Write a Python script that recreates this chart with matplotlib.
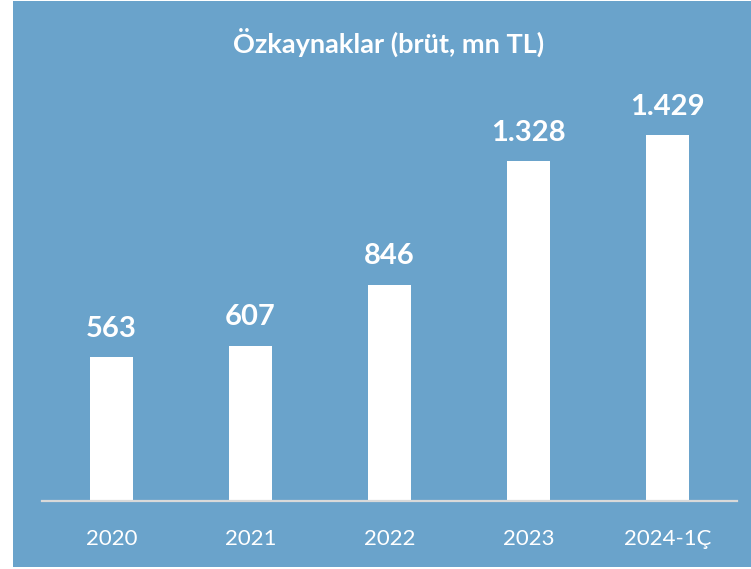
import matplotlib
matplotlib.use('Agg')
import matplotlib.pyplot as plt
from matplotlib.patches import Rectangle

# Data
categories = ['2020', '2021', '2022', '2023', '2024-1Ç']
values = [563, 607, 846, 1328, 1429]
value_labels = ['563', '607', '846', '1.328', '1.429']
title = 'Özkaynaklar (brüt, mn TL)'

bg_blue = '#6aa3cb'
W, H = 751, 569

plt.rcParams['font.family'] = ['Lato', 'DejaVu Sans']

fig = plt.figure(figsize=(W / 100, H / 100), dpi=100)
fig.patch.set_facecolor('white')

# blue panel behind everything
fig.patches.append(Rectangle((13 / W, 2 / H), (W - 13) / W, (567 - 1) / H,
                             transform=fig.transFigure, facecolor=bg_blue,
                             edgecolor='none', zorder=-10))

ax = fig.add_axes([42 / W, 68 / H, 695 / W, 431 / H])
ax.set_facecolor('none')
ax.set_zorder(1)

x = range(len(categories))
bars = ax.bar(x, values, width=0.31, color='white', zorder=2)
ax.set_xlim(-0.5, len(categories) - 0.5)
ax.set_ylim(0, 1685)

for b, lab in zip(bars, value_labels):
    ax.annotate(lab, (b.get_x() + b.get_width() / 2, b.get_height()),
                xytext=(0, 11), textcoords='offset points',
                ha='center', va='bottom', color='white',
                fontsize=21, fontweight='bold')

for s in ['top', 'right', 'left']:
    ax.spines[s].set_visible(False)
ax.spines['bottom'].set_color('#d9d9d9')
ax.spines['bottom'].set_linewidth(1.6)
ax.set_yticks([])
ax.set_xticks(list(x))
ax.set_xticklabels(categories, color='white', fontsize=16)
ax.tick_params(axis='x', length=0, pad=20)

fig.text(389 / W, 1 - 42 / H, title, ha='center', va='center',
         color='white', fontsize=19.5, fontweight='bold', zorder=5)

fig.savefig('out.png', dpi=100)
